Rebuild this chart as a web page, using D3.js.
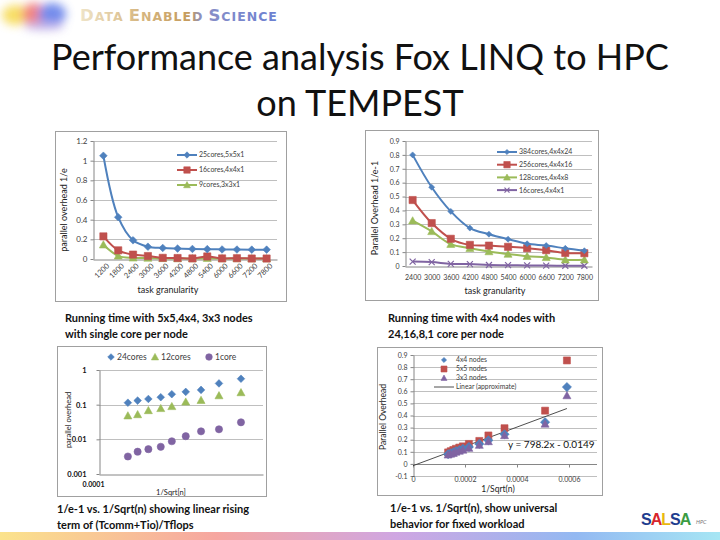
<!DOCTYPE html>
<html>
<head>
<meta charset="utf-8">
<script src="https://cdn.jsdelivr.net/npm/d3@7"></script>
<style>
  body { margin: 0; background: #fff; }
  svg text { font-family: Lato, "Open Sans", sans-serif; }
</style>
</head>
<body>
<svg id="slide" width="720" height="540"></svg>
<script>
// top left: 5x5, 4x4, 3x3 nodes with one core each
var gran1 = ["1200","1800","2400","3000","3600","4200","4800","5400","6000","6600","7200","7800"];
var cores25 = [1.05,0.425,0.19,0.125,0.112,0.106,0.102,0.1,0.097,0.096,0.095,0.095];
var cores16 = [0.23,0.088,0.045,0.03,0.012,0.01,0.006,0.026,0.006,0.008,0.005,0.005];
var cores9 = [0.145,0.032,0.012,0.01,0.006,0.005,0.004,0.008,0.004,0.005,0.004,0.004];
var ticks1 = [0,0.2,0.4,0.6,0.8,1,1.2];
var names1 = ["25cores,5x5x1","16cores,4x4x1","9cores,3x3x1"];

// top right: 4x4 nodes with 24,16,8,1 cores per node
var gran2 = ["2400","3000","3600","4200","4800","5400","6000","6600","7200","7800"];
var cores384 = [0.8,0.567,0.393,0.273,0.229,0.193,0.16,0.147,0.127,0.11];
var cores256 = [0.475,0.309,0.196,0.152,0.147,0.138,0.128,0.114,0.094,0.092];
var cores128 = [0.326,0.249,0.157,0.128,0.104,0.086,0.07,0.062,0.045,0.045];
var cores16b = [0.032,0.028,0.015,0.014,0.007,0.006,0.004,0.003,0.002,0.002];
var ticks2 = [0,0.1,0.2,0.3,0.4,0.5,0.6,0.7,0.8,0.9];
var names2 = ["384cores,4x4x24","256cores,4x4x16","128cores,4x4x8","16cores,4x4x1"];

// bottom left: overhead vs 1/sqrt(n), log-log
var sqrt3 = [0.00015,0.000172,0.0002,0.000238,0.000278,0.000338,0.000419,0.000539,0.000734];
var over24 = [0.114,0.131,0.146,0.164,0.2,0.234,0.267,0.41,0.56];
var over12 = [0.048,0.052,0.068,0.078,0.089,0.12,0.134,0.183,0.224];
var over1 = [0.0032,0.0044,0.0052,0.0061,0.0088,0.0123,0.017,0.0195,0.031];
var ticks3 = [0.001,0.01,0.1,1];
var names3 = ["24cores","12cores","1core"];

// bottom right: overhead vs 1/sqrt(n), linear, with fitted line
var sqrt4 = [0.000135,0.000145,0.000155,0.000165,0.000178,0.000192,0.000215,0.000255,0.00029,0.000352,0.000508,0.000592];
var nodes4 = [0.08,0.088,0.095,0.105,0.115,0.125,0.14,0.165,0.195,0.245,0.345,0.635];
var nodes5 = [0.095,0.105,0.115,0.125,0.135,0.145,0.165,0.19,0.235,0.295,0.44,0.855];
var nodes3 = [0.075,0.082,0.088,0.098,0.106,0.115,0.13,0.155,0.185,0.235,0.33,0.565];
var ticks4y = [-0.1,0,0.1,0.2,0.3,0.4,0.5,0.6,0.7,0.8,0.9];
var ticks4x = [0,0.0002,0.0004,0.0006];
var names4 = ["4x4 nodes","5x5 nodes","3x3 nodes","Linear (approximate)"];
var fitSlope = 798.2, fitIntercept = -0.0149;

var blue = "#4f81bd", red = "#c0504d", green = "#9bbb59", purple = "#8064a2";
var axisGray = "#868686", gridGray = "#bfbfbf", labelGray = "#404040";

var svg = d3.select("#slide");
var defs = svg.append("defs");

// ---- decoration: header blob, logo text, bottom strip ----
defs.append("filter").attr("id", "blur").attr("x", "-50%").attr("y", "-50%").attr("width", "200%").attr("height", "200%")
  .append("feGaussianBlur").attr("stdDeviation", 5);
var blob = svg.append("g").attr("filter", "url(#blur)").attr("opacity", 0.85);
blob.append("ellipse").attr("cx", 16).attr("cy", 15).attr("rx", 14).attr("ry", 10).attr("fill", "#f6d84a");
blob.append("ellipse").attr("cx", 34).attr("cy", 14).attr("rx", 12).attr("ry", 11).attr("fill", "#ef6f6a");
blob.append("ellipse").attr("cx", 52).attr("cy", 14).attr("rx", 14).attr("ry", 11).attr("fill", "#5b78e8");
blob.append("ellipse").attr("cx", 44).attr("cy", 26).attr("rx", 20).attr("ry", 4).attr("fill", "#b7a6e6");

var lg = defs.append("linearGradient").attr("id", "logo").attr("gradientUnits", "userSpaceOnUse")
  .attr("x1", 80).attr("x2", 282).attr("y1", 0).attr("y2", 0);
[[0, "#efe4c8"], [0.3, "#d6b680"], [0.55, "#c49a5c"], [0.6, "#8a8fc6"], [1, "#6a7fd2"]].forEach(function(s) {
  lg.append("stop").attr("offset", s[0]).attr("stop-color", s[1]);
});
var logo = svg.append("text").attr("x", 80).attr("y", 21).attr("fill", "url(#logo)")
  .style("font-family", "'DejaVu Sans'").attr("font-weight", "bold").attr("letter-spacing", 1);
["Data", "Enabled", "Science"].forEach(function(w, i) {
  logo.append("tspan").attr("font-size", 16.5).attr("dx", i ? 5 : 0).text(w[0].toUpperCase());
  logo.append("tspan").attr("font-size", 12.5).text(w.slice(1).toUpperCase());
});

var sg = defs.append("linearGradient").attr("id", "strip");
[[0, "#fbe38c"], [0.3, "#f6a6a0"], [0.55, "#cfa6e2"], [0.8, "#93b9f2"], [1, "#a6e6f4"]].forEach(function(s) {
  sg.append("stop").attr("offset", s[0]).attr("stop-color", s[1]);
});
svg.append("rect").attr("x", 0).attr("y", 532).attr("width", 720).attr("height", 8).attr("fill", "url(#strip)");

var salsa = svg.append("text").attr("x", 641).attr("y", 525).attr("font-size", 16).attr("font-weight", "bold")
  .style("font-family", "'Liberation Sans'").attr("letter-spacing", -1);
[["S", "#1f3d8f"], ["A", "#d8262c"], ["L", "#e9b80c"], ["S", "#1f3d8f"], ["A", "#3b9c43"]].forEach(function(c) {
  salsa.append("tspan").attr("fill", c[1]).text(c[0]);
});
svg.append("text").attr("x", 696).attr("y", 524).attr("font-size", 5.5).attr("font-style", "italic")
  .attr("fill", "#777").text("HPC");

// ---- title ----
svg.append("text").attr("x", 360).attr("y", 70).attr("text-anchor", "middle").attr("font-size", 36)
  .attr("fill", "#111").text("Performance analysis Fox LINQ to HPC");
svg.append("text").attr("x", 360).attr("y", 116).attr("text-anchor", "middle").attr("font-size", 36)
  .attr("fill", "#111").text("on TEMPEST");

// ---- helpers ----
function shape(type, r) {
  if (type == "diamond") return "M0," + (-r) + "L" + r + ",0L0," + r + "L" + (-r) + ",0Z";
  if (type == "square") return "M" + (-r) + "," + (-r) + "h" + 2 * r + "v" + 2 * r + "h" + (-2 * r) + "Z";
  if (type == "triangle") return "M0," + (-r) + "L" + r + "," + r * 0.8 + "L" + (-r) + "," + r * 0.8 + "Z";
  if (type == "circle") return d3.symbol(d3.symbolCircle, Math.PI * r * r)();
  return "M" + (-r) + "," + (-r) + "L" + r + "," + r + "M" + (-r) + "," + r + "L" + r + "," + (-r);
}

function frame(x, y, w, h) {
  svg.append("rect").attr("x", x + 0.5).attr("y", y + 0.5).attr("width", w).attr("height", h)
    .attr("fill", "#fff").attr("stroke", "#a0a0a0");
}

function hGrid(scale, ticks, x0, x1) {
  svg.append("g").selectAll("line").data(ticks).enter().append("line")
    .attr("x1", x0).attr("x2", x1)
    .attr("y1", function(d) { return Math.round(scale(d)) + 0.5; })
    .attr("y2", function(d) { return Math.round(scale(d)) + 0.5; })
    .attr("stroke", gridGray);
}

// d3's axis sets font-size on its group, so sizes go on after .call
function leftAxis(scale, ticks, x, fmt, size) {
  var g = svg.append("g")
    .attr("transform", "translate(" + (x + 0.5) + ",0)")
    .call(d3.axisLeft(scale).tickValues(ticks).tickFormat(fmt).tickSize(3).tickSizeOuter(0).tickPadding(3))
    .attr("font-size", size);
  g.select(".domain").attr("stroke", axisGray);
  g.selectAll(".tick line").attr("stroke", axisGray);
  g.selectAll(".tick text").attr("fill", labelGray);
  return g;
}

function points(pts, color, type, r) {
  svg.append("g").selectAll("path").data(pts).enter().append("path")
    .attr("transform", function(d) { return "translate(" + d[0] + "," + d[1] + ")"; })
    .attr("d", shape(type, r))
    .attr("fill", type == "x" ? "none" : color)
    .attr("stroke", color).attr("stroke-width", type == "x" ? 1.2 : 0.6);
}

function lineSeries(xs, ys, sx, sy, color, type, r) {
  var pts = xs.map(function(d, i) { return [sx(d), sy(ys[i])]; });
  svg.append("path").datum(pts)
    .attr("d", d3.line().curve(d3.curveCatmullRom.alpha(0.5)))
    .attr("fill", "none").attr("stroke", color).attr("stroke-width", 2);
  points(pts, color, type, r);
}

function legendRow(x, y, name, color, type, r, lineLen, textGap, size) {
  if (lineLen) {
    svg.append("line").attr("x1", x - lineLen / 2).attr("x2", x + lineLen / 2).attr("y1", y).attr("y2", y)
      .attr("stroke", color).attr("stroke-width", type ? 2 : 0.9);
  }
  if (type) points([[x, y]], color, type, r);
  svg.append("text").attr("x", x + textGap).attr("y", y).attr("dy", "0.35em")
    .attr("font-size", size).attr("fill", labelGray).text(name);
}

function plain(d) { return String(d); }

// ---- chart 1 ----
frame(55, 131, 231, 170);
var p1 = {left: 93, right: 277, top: 141, bottom: 259};
var x1 = d3.scalePoint().domain(gran1).range([p1.left, p1.right]).padding(0.7);
var y1 = d3.scaleLinear().domain([0, 1.2]).range([p1.bottom, p1.top]);
hGrid(y1, ticks1.slice(1), p1.left, p1.right);
leftAxis(y1, ticks1, p1.left, plain, 8);
var xa1 = svg.append("g").attr("transform", "translate(0," + (p1.bottom + 0.5) + ")")
  .call(d3.axisBottom(x1).tickSize(0).tickSizeOuter(0)).attr("font-size", 7.5);
xa1.select(".domain").attr("stroke", axisGray);
xa1.selectAll("text").attr("fill", labelGray).attr("y", 0).attr("dy", "0.35em")
  .attr("transform", "translate(4,5) rotate(-45)").style("text-anchor", "end");
lineSeries(gran1, cores9, x1, y1, green, "triangle", 4);
lineSeries(gran1, cores16, x1, y1, red, "square", 3.6);
lineSeries(gran1, cores25, x1, y1, blue, "diamond", 3.8);
[[blue, "diamond", 3.2], [red, "square", 3.2], [green, "triangle", 3.4]].forEach(function(s, i) {
  legendRow(187, 155 + i * 15, names1[i], s[0], s[1], s[2], 20, 12, 7);
});
svg.append("text").attr("transform", "translate(67,210) rotate(-90)").attr("text-anchor", "middle")
  .attr("font-size", 9).attr("fill", "#222").text("parallel overhead  1/e");
svg.append("text").attr("x", 168).attr("y", 293).attr("text-anchor", "middle")
  .attr("font-size", 9).attr("fill", "#222").text("task granularity");

// ---- chart 2 ----
frame(365, 130, 233, 170);
var p2 = {left: 405, right: 592, top: 141, bottom: 266};
var x2 = d3.scalePoint().domain(gran2).range([p2.left, p2.right]).padding(0.4);
var y2 = d3.scaleLinear().domain([0, 0.9]).range([p2.bottom, p2.top]);
hGrid(y2, ticks2.slice(1), p2.left, p2.right);
leftAxis(y2, ticks2, p2.left, plain, 7);
var xa2 = svg.append("g").attr("transform", "translate(0," + (p2.bottom + 0.5) + ")")
  .call(d3.axisBottom(x2).tickSize(0).tickSizeOuter(0).tickPadding(9)).attr("font-size", 7);
xa2.select(".domain").attr("stroke", axisGray);
xa2.selectAll("text").attr("fill", labelGray);
lineSeries(gran2, cores16b, x2, y2, purple, "x", 3);
lineSeries(gran2, cores128, x2, y2, green, "triangle", 4);
lineSeries(gran2, cores256, x2, y2, red, "square", 3.6);
lineSeries(gran2, cores384, x2, y2, blue, "diamond", 3);
[[blue, "diamond", 2.6], [red, "square", 3.2], [green, "triangle", 3.4], [purple, "x", 2.5]].forEach(function(s, i) {
  legendRow(507, 152 + i * 12.7, names2[i], s[0], s[1], s[2], 20, 12, 7);
});
svg.append("text").attr("transform", "translate(378,208) rotate(-90)").attr("text-anchor", "middle")
  .attr("font-size", 9).attr("fill", "#222").text("Parallel Overhead    1/e-1");
svg.append("text").attr("x", 495).attr("y", 294).attr("text-anchor", "middle")
  .attr("font-size", 9).attr("fill", "#222").text("task granularity");

// ---- captions ----
function caption(x, y, lines, size) {
  lines.forEach(function(t, i) {
    svg.append("text").attr("x", x).attr("y", y + i * 15.5).attr("font-size", size)
      .attr("font-weight", "bold").attr("fill", "#111").text(t);
  });
}
caption(65, 322, ["Running time with 5x5,4x4, 3x3 nodes", "with single core per node"], 11);
caption(388, 322, ["Running time with 4x4 nodes with", "24,16,8,1 core per node"], 11);

// ---- chart 3 ----
frame(57, 346, 209, 150);
var p3 = {left: 99, right: 263, top: 370, bottom: 474};
var x3 = d3.scaleLog().domain([0.0001, 0.001]).range([p3.left, p3.right]);
var y3 = d3.scaleLog().domain([0.001, 1]).range([p3.bottom, p3.top]);
hGrid(y3, ticks3.slice(1), p3.left, p3.right);
var ya3 = leftAxis(y3, ticks3, p3.left, plain, 7.5);
ya3.selectAll(".tick text").attr("fill", "#111").attr("font-weight", "bold").attr("dx", -7);
var xa3 = svg.append("g").attr("transform", "translate(0," + (p3.bottom + 0.5) + ")")
  .call(d3.axisBottom(x3).tickValues([0.0001]).tickFormat(plain).tickSize(0).tickSizeOuter(0).tickPadding(8))
  .attr("font-size", 7);
xa3.select(".domain").attr("stroke", axisGray);
xa3.selectAll("text").attr("fill", "#111").attr("font-weight", "bold").attr("dx", -6);
points(sqrt3.map(function(d, i) { return [x3(d), y3(over24[i])]; }), blue, "diamond", 3.8);
points(sqrt3.map(function(d, i) { return [x3(d), y3(over12[i])]; }), green, "triangle", 4);
points(sqrt3.map(function(d, i) { return [x3(d), y3(over1[i])]; }), purple, "circle", 3.6);
[[blue, "diamond", 3.3, 111], [green, "triangle", 3.6, 155], [purple, "circle", 3.3, 209]].forEach(function(s, i) {
  legendRow(s[3], 357, names3[i], s[0], s[1], s[2], 0, 6, 8.5);
});
svg.append("text").attr("transform", "translate(71,420) rotate(-90)").attr("text-anchor", "middle")
  .attr("font-size", 7.5).attr("fill", "#222").text("parallel overhead");
svg.append("text").attr("x", 171).attr("y", 495).attr("text-anchor", "middle")
  .attr("font-size", 7.5).attr("fill", "#222").text("1/Sqrt[n]");

// ---- chart 4 ----
frame(377, 347, 225, 148);
var p4 = {left: 413, right: 597, top: 355, bottom: 476};
var x4 = d3.scaleLinear().domain([0, 0.0006]).range([p4.left, 569]);
var y4 = d3.scaleLinear().domain([-0.1, 0.9]).range([p4.bottom, p4.top]);
hGrid(y4, ticks4y, p4.left, p4.right);
leftAxis(y4, ticks4y, p4.left, plain, 7);
var xa4 = svg.append("g").attr("transform", "translate(0," + (Math.round(y4(0)) + 0.5) + ")")
  .call(d3.axisBottom(x4).tickValues(ticks4x).tickFormat(plain).tickSize(3).tickSizeOuter(0).tickPadding(10))
  .attr("font-size", 7);
xa4.select(".domain").attr("stroke", axisGray).attr("d", "M" + p4.left + ",0H" + p4.right);
xa4.selectAll(".tick line").attr("stroke", axisGray);
xa4.selectAll("text").attr("fill", labelGray);
var fitEnd = d3.max(sqrt4);
svg.append("line")
  .attr("x1", x4(0)).attr("y1", y4(fitIntercept))
  .attr("x2", x4(fitEnd)).attr("y2", y4(fitSlope * fitEnd + fitIntercept))
  .attr("stroke", "#3a3a3a").attr("stroke-width", 0.9);
points(sqrt4.map(function(d, i) { return [x4(d), y4(nodes5[i])]; }), red, "square", 3.5);
points(sqrt4.map(function(d, i) { return [x4(d), y4(nodes4[i])]; }), blue, "diamond", 4.6);
points(sqrt4.map(function(d, i) { return [x4(d), y4(nodes3[i])]; }), purple, "triangle", 4);
[[blue, "diamond", 2.6], [red, "square", 3], [purple, "triangle", 3], ["#3a3a3a", null, 0]].forEach(function(s, i) {
  legendRow(444, 360 + i * 9, names4[i], s[0], s[1], s[2], s[1] ? 0 : 20, 12, 6.8);
});
svg.append("text").attr("x", 508).attr("y", 448).attr("font-size", 10).attr("fill", "#111")
  .text("y = " + fitSlope + "x - " + Math.abs(fitIntercept));
svg.append("text").attr("transform", "translate(386,417) rotate(-90)").attr("text-anchor", "middle")
  .attr("font-size", 8.5).attr("fill", "#222").text("Parallel Overhead");
svg.append("text").attr("x", 498).attr("y", 492).attr("text-anchor", "middle")
  .attr("font-size", 8.5).attr("fill", "#222").text("1/Sqrt(n)");

caption(57, 513, ["1/e-1 vs. 1/Sqrt(n) showing linear rising", "term of (Tcomm+Tio)/Tflops"], 11);
caption(390, 512, ["1/e-1 vs. 1/Sqrt(n), show universal", "behavior for fixed workload"], 11);
</script>
</body>
</html>
